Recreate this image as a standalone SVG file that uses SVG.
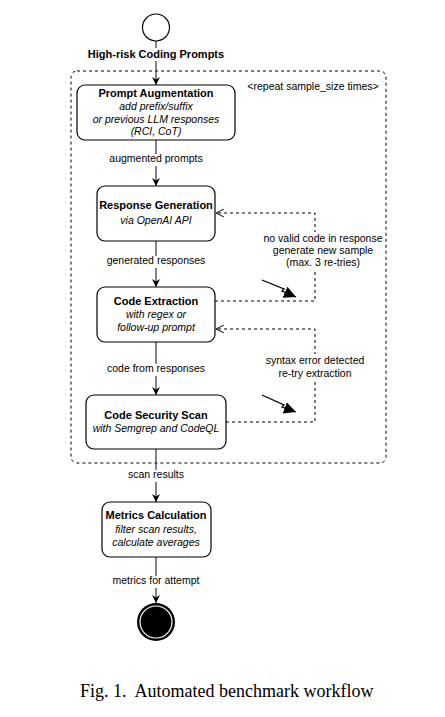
<svg xmlns="http://www.w3.org/2000/svg" width="445" height="717" viewBox="0 0 445 717">
<defs>
<marker id="ah" viewBox="0 0 10 10" refX="10" refY="5" markerWidth="8" markerHeight="8" markerUnits="userSpaceOnUse" orient="auto">
<path d="M0,0 L10,5 L0,10 L3,5 Z" fill="#000"/>
</marker>
<marker id="oh" viewBox="0 0 10 10" refX="10" refY="5" markerWidth="8" markerHeight="8" markerUnits="userSpaceOnUse" orient="auto">
<path d="M0,0 L10,5 L0,10" fill="none" stroke="#000" stroke-width="1.2"/>
</marker>
<marker id="lh" viewBox="0 0 10 10" refX="10" refY="5" markerWidth="12" markerHeight="12" markerUnits="userSpaceOnUse" orient="auto">
<path d="M0,0 L10,5 L0,10 Z" fill="#000"/>
</marker>
<style>
.box{fill:#fff;stroke:#000;stroke-width:1.2}
.t{font-family:"Liberation Sans",Arial,sans-serif;font-size:10.5px;fill:#000;text-anchor:middle}
.b{font-weight:bold;font-size:11px}
.i{font-style:italic}
.e{fill:none;stroke:#333;stroke-width:1.2}
.d{fill:none;stroke:#000;stroke-width:1;stroke-dasharray:3,3}
.bg{fill:#fff}
</style>
</defs>
<rect x="0" y="0" width="445" height="717" fill="#fff"/>

<g id="repeat-frame">
<rect x="71" y="71" width="315" height="392" rx="6" class="d"/>
<text class="t" x="313" y="90">&lt;repeat sample_size times&gt;</text>
</g>

<g id="connectors">
<line class="e" x1="156" y1="41" x2="156" y2="85" marker-end="url(#ah)"/>
<line class="e" x1="156" y1="140" x2="156" y2="186" marker-end="url(#ah)"/>
<line class="e" x1="156" y1="241" x2="156" y2="287" marker-end="url(#ah)"/>
<line class="e" x1="156" y1="342" x2="156" y2="395" marker-end="url(#ah)"/>
<line class="e" x1="156" y1="449" x2="156" y2="502" marker-end="url(#ah)"/>
<line class="e" x1="156" y1="557" x2="156" y2="603" marker-end="url(#ah)"/>
<polyline class="d" points="215,301 315,301 315,213 216,213" marker-end="url(#oh)"/>
<polyline class="d" points="226,422 315,422 315,329 216,329" marker-end="url(#oh)"/>
<polyline fill="none" stroke="#000" stroke-width="1.3" points="262,280 284,289 282,291 296,297" marker-end="url(#lh)"/>
<polyline fill="none" stroke="#000" stroke-width="1.3" points="262,395 284,405 282,407 296,412" marker-end="url(#lh)"/>
<rect class="bg" x="106" y="154" width="100" height="12"/>
<text class="t" x="156" y="162">augmented prompts</text>
<rect class="bg" x="102" y="256" width="108" height="12"/>
<text class="t" x="156" y="264">generated responses</text>
<rect class="bg" x="104" y="364" width="104" height="12"/>
<text class="t" x="156" y="372">code from responses</text>
<rect class="bg" x="124" y="470" width="64" height="12"/>
<text class="t" x="156" y="478">scan results</text>
<rect class="bg" x="106" y="576" width="100" height="12"/>
<text class="t" x="156" y="584">metrics for attempt</text>
<rect class="bg" x="264" y="232" width="118" height="37"/>
<text class="t" x="323" y="242">no valid code in response</text>
<text class="t" x="323" y="254">generate new sample</text>
<text class="t" x="323" y="266">(max. 3 re-tries)</text>
<rect class="bg" x="264" y="354" width="102" height="26"/>
<text class="t" x="315" y="364">syntax error detected</text>
<text class="t" x="315" y="377">re-try extraction</text>
</g>

<g id="start">
<circle cx="156" cy="27.5" r="13.5" fill="#fff" stroke="#000" stroke-width="1.2"/>
<rect class="bg" x="88" y="48" width="136" height="13"/>
<text class="t b" x="156" y="58">High-risk Coding Prompts</text>
</g>

<g id="prompt-augmentation">
<rect class="box" x="77" y="85" width="158" height="55" rx="8"/>
<text class="t b" x="156" y="97">Prompt Augmentation</text>
<text class="t i" x="156" y="110">add prefix/suffix</text>
<text class="t i" x="156" y="122.5">or previous LLM responses</text>
<text class="t i" x="156" y="135">(RCI, CoT)</text>
</g>

<g id="response-generation">
<rect class="box" x="97" y="186" width="118" height="55" rx="8"/>
<text class="t b" x="156" y="209">Response Generation</text>
<text class="t i" x="156" y="224">via OpenAI API</text>
</g>

<g id="code-extraction">
<rect class="box" x="97" y="287" width="118" height="55" rx="8"/>
<text class="t b" x="156" y="305">Code Extraction</text>
<text class="t i" x="156" y="318">with regex or</text>
<text class="t i" x="156" y="331">follow-up prompt</text>
</g>

<g id="code-security-scan">
<rect class="box" x="86" y="395" width="140" height="54" rx="8"/>
<text class="t b" x="156" y="419">Code Security Scan</text>
<text class="t i" x="156" y="432">with Semgrep and CodeQL</text>
</g>

<g id="metrics-calculation">
<rect class="box" x="102" y="502" width="109" height="55" rx="8"/>
<text class="t b" x="156" y="519">Metrics Calculation</text>
<text class="t i" x="156" y="533">filter scan results,</text>
<text class="t i" x="156" y="545.5">calculate averages</text>
</g>

<g id="end">
<circle cx="156" cy="622" r="19" fill="#000"/>
<circle cx="156" cy="622" r="16" fill="#000" stroke="#fff" stroke-width="1.2"/>
</g>

<text x="80" y="697" font-family="'Liberation Serif','Times New Roman',serif" font-size="18" fill="#000" xml:space="preserve">Fig. 1.  Automated benchmark workflow</text>
</svg>
